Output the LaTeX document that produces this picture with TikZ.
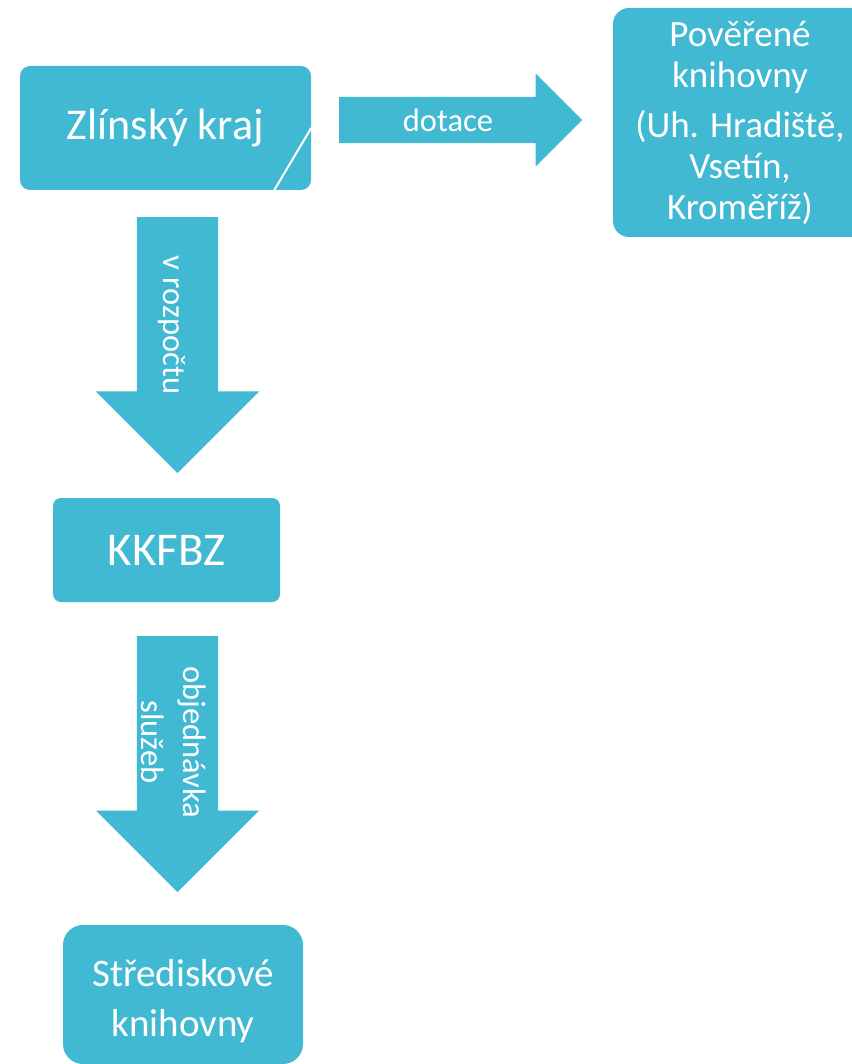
\documentclass[tikz,border=0pt]{standalone}
\usepackage{fontspec}
\setmainfont{Carlito}
\usetikzlibrary{shapes.arrows}
\definecolor{tyrkys}{RGB}{66,185,211}

\begin{document}
\begin{tikzpicture}[x=1pt, y=-1pt,
        box/.style={fill=tyrkys, rounded corners=#1, text=white, align=center,
                    inner sep=0pt},
        big/.style={font=\fontsize{44}{50}\selectfont},
        mid/.style={font=\fontsize{37}{41}\selectfont},
        arr/.style={single arrow, fill=tyrkys, inner xsep=0pt, minimum width=0pt,
                    single arrow tip angle=90, anchor=tail},
        lbl/.style={text=white, inner sep=0pt, align=center,
                    font=\fontsize{32.5}{42}\selectfont},
    ]
    \useasboundingbox (0,0) rectangle (851,1064);

    % Boxes
    \node[box=10pt, big, minimum width=291pt, minimum height=124pt] (zlin) at (165.5,128) {Zlínský kraj};
    \node[box=16pt, mid, minimum width=254pt, minimum height=229pt] (pov) at (740,122.5)
        {Pověřené\\knihovny\\[9pt](Uh. Hradiště,\\Vsetín,\\Kroměříž)};
    \node[box=8pt, font=\fontsize{47}{50}\selectfont, minimum width=227pt, minimum height=104pt]
        (kkf) at (166.5,550) {KKFBZ};
    \node[box=20pt, minimum width=240pt, minimum height=139pt] (stred) at (183,994.5) {};
    \node[lbl, font=\fontsize{39}{50}\selectfont] (stredt) at (183,1001) {Střediskové\\knihovny};

    % Cut line in the first box
    \draw[white, line width=2pt] (zlin.east) -- ([xshift=-37pt]zlin.south east);

    % Block arrows
    \node[arr, inner ysep=23pt, single arrow head extend=23.5pt, minimum height=243pt]
        (adot) at (339,120) {};
    \node[arr, rotate=-90, inner ysep=40.5pt, single arrow head extend=41pt, minimum height=256pt]
        (aroz) at (177.5,217) {};
    \node[arr, rotate=-90, inner ysep=40.5pt, single arrow head extend=41pt, minimum height=256pt]
        (aobj) at (177.5,636) {};

    % Arrow labels
    \node[lbl] (ldot) at (448,120) {dotace};
    \node[lbl, rotate=-90] (lroz) at (172,325) {v rozpočtu};
    \node[lbl, rotate=-90] (lobj) at (174,742) {objednávka\\služeb};
\end{tikzpicture}
\end{document}
